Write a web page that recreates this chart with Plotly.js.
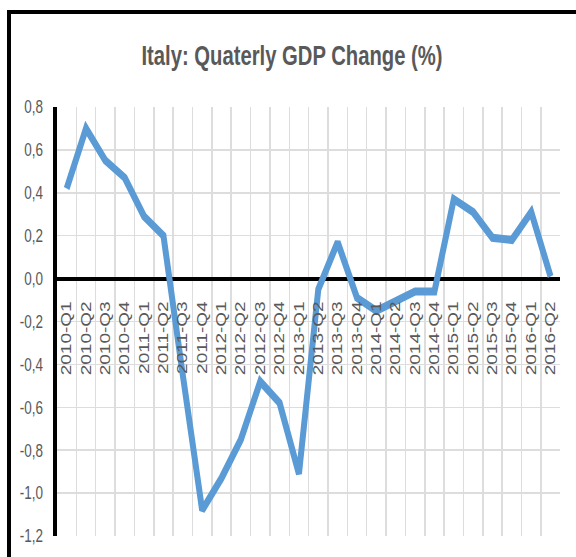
<!DOCTYPE html>
<html>
<head>
<meta charset="utf-8">
<script src="https://cdn.plot.ly/plotly-3.0.1.min.js"></script>
<style>
  html, body { margin: 0; padding: 0; background: #fff; }
  #wrap { position: relative; width: 576px; height: 557px; overflow: hidden; }
  #chart { position: absolute; left: 0; top: 0; width: 768px; height: 557px;
           transform: scaleX(0.75); transform-origin: 0 0; }
  #frame { position: absolute; left: 7px; top: 10px; width: 600px; height: 600px;
           border-top: 4px solid #000; border-left: 4px solid #000; pointer-events: none; }
</style>
</head>
<body>
<div id="wrap">
  <div id="chart"></div>
  <div id="frame"></div>
</div>
<script>
const quarters = [
  '2010-Q1','2010-Q2','2010-Q3','2010-Q4',
  '2011-Q1','2011-Q2','2011-Q3','2011-Q4',
  '2012-Q1','2012-Q2','2012-Q3','2012-Q4',
  '2013-Q1','2013-Q2','2013-Q3','2013-Q4',
  '2014-Q1','2014-Q2','2014-Q3','2014-Q4',
  '2015-Q1','2015-Q2','2015-Q3','2015-Q4',
  '2016-Q1','2016-Q2'
];
const gdpChange = [
  0.42, 0.70, 0.55, 0.47,
  0.29, 0.20, -0.45, -1.08,
  -0.93, -0.75, -0.48, -0.58,
  -0.91, -0.05, 0.17, -0.09,
  -0.15, -0.10, -0.06, -0.06,
  0.37, 0.31, 0.19, 0.18,
  0.31, 0.01
];
const yTickVals = [0.8, 0.6, 0.4, 0.2, 0.0, -0.2, -0.4, -0.6, -0.8, -1.0, -1.2];
const yTickText = ['0,8', '0,6', '0,4', '0,2', '0,0', '-0,2', '-0,4', '-0,6', '-0,8', '-1,0', '-1,2'];
const yRange = [-1.2, 0.8];
const titleText = 'Italy: Quaterly GDP Change (%)';

const sans = '"Liberation Sans", Arial, sans-serif';
const gray = '#595959';

const trace = {
  type: 'scatter',
  mode: 'lines',
  x: quarters,
  y: gdpChange,
  line: { color: '#5B9BD5', width: 8, shape: 'linear' },
  hoverinfo: 'x+y'
};

const zeroPos = (0 - yRange[0]) / (yRange[1] - yRange[0]);

const layout = {
  width: 768,
  height: 557,
  margin: { l: 75.6, r: 21.3, t: 107, b: 20.5, pad: 0 },
  paper_bgcolor: '#ffffff',
  plot_bgcolor: '#ffffff',
  showlegend: false,
  title: {
    text: '<b>' + titleText + '</b>',
    font: { family: sans, size: 27, color: gray },
    xref: 'container', x: 292 / 576, xanchor: 'center',
    yref: 'container', y: 1 - 56 / 557, yanchor: 'middle'
  },
  xaxis: {
    type: 'category',
    range: [-0.5, quarters.length - 0.5],
    anchor: 'free',
    position: zeroPos,
    tickson: 'boundaries',
    showgrid: true,
    gridcolor: '#DDDDDD',
    gridwidth: 2,
    showline: false,
    ticks: '',
    tickangle: -90,
    ticklabelstandoff: 18,
    tickfont: { family: sans, size: 19, color: gray },
    zeroline: false,
    fixedrange: true
  },
  yaxis: {
    range: yRange,
    tickmode: 'array',
    tickvals: yTickVals,
    ticktext: yTickText,
    showgrid: true,
    gridcolor: '#DDDDDD',
    gridwidth: 1.5,
    zeroline: true,
    zerolinecolor: '#000000',
    zerolinewidth: 4,
    showline: true,
    linecolor: '#000000',
    linewidth: 5,
    ticks: '',
    ticklabelstandoff: 10,
    tickfont: { family: sans, size: 18, color: gray },
    fixedrange: true
  }
};

Plotly.newPlot('chart', [trace], layout, { displayModeBar: false, staticPlot: true });
</script>
</body>
</html>
